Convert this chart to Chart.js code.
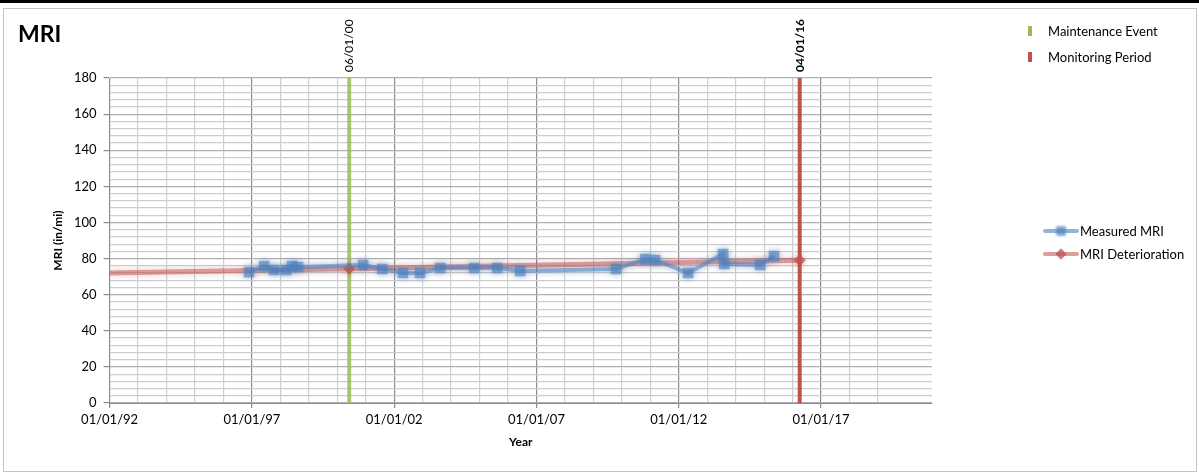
<!DOCTYPE html>
<html>
<head>
<meta charset="utf-8">
<script src="https://cdn.jsdelivr.net/npm/chart.js@4"></script>
<style>
  body { margin: 0; background: #fff; font-family: Lato, sans-serif; }
  #wrap { position: relative; width: 1199px; height: 475px; overflow: hidden; background: #fff; }
  #topbar { position: absolute; left: 0; top: 0; width: 1199px; height: 3px; background: #000; }
  #frame { position: absolute; left: 3px; top: 8px; width: 1194px; height: 464px; border: 1px solid #c4c4c4; box-sizing: border-box; }
  #chartBox { position: absolute; left: 0; top: 0; width: 1199px; height: 475px; }
  #title { position: absolute; left: 18px; top: 19px; font-size: 23px; font-weight: bold; color: #000; }
  .leg { position: absolute; font-size: 13px; color: #000; line-height: 16px; }
  .bar { position: absolute; width: 4px; height: 10px; }
  .lline { position: absolute; width: 36px; height: 4px; border-radius: 2px; }
  .mk { position: absolute; width: 10px; height: 10px; }
</style>
</head>
<body>
<div id="wrap">
  <div id="topbar"></div>
  <div id="frame"></div>
  <div id="chartBox"><canvas id="myChart" width="1199" height="475"></canvas></div>
  <div id="title">MRI</div>

  <div class="bar" style="left:1028px;top:26px;background:#9bbb59;"></div>
  <div class="leg" style="left:1048px;top:23px;">Maintenance Event</div>
  <div class="bar" style="left:1028px;top:52px;background:#c0504d;"></div>
  <div class="leg" style="left:1048px;top:49px;">Monitoring Period</div>

  <div class="lline" style="left:1043px;top:229px;background:rgba(79,129,189,0.6);filter:blur(0.6px);"></div>
  <div class="mk" style="left:1056px;top:226px;background:rgba(79,129,189,0.7);border-radius:2px;filter:blur(0.8px);"></div>
  <div class="leg" style="left:1080px;top:223px;">Measured MRI</div>
  <div class="lline" style="left:1043px;top:252px;background:rgba(192,80,77,0.55);filter:blur(0.6px);"></div>
  <div class="mk" style="left:1056px;top:249px;background:rgba(192,80,77,0.75);transform:rotate(45deg) scale(0.8);filter:blur(0.6px);"></div>
  <div class="leg" style="left:1080px;top:246px;">MRI Deterioration</div>
</div>

<script>
// misure MRI (anno decimale, valore in/mi)
const measuredYears = [1996.90, 1997.43, 1997.78, 1998.20, 1998.41, 1998.62, 2000.91, 2001.58, 2002.31, 2002.91,
                       2003.62, 2004.81, 2005.62, 2006.43, 2009.80, 2010.82, 2011.17, 2012.33, 2013.56, 2013.60,
                       2014.86, 2015.35];
const measuredMri = [72.5, 75.9, 73.7, 73.7, 75.9, 75.3, 76.4, 74.2, 72.0, 72.0,
                     74.8, 74.8, 74.8, 73.1, 74.2, 79.7, 79.2, 72.0, 82.5, 77.0,
                     76.4, 81.4];
// linea di deterioramento
const trendYears = [1992, 2000.42, 2016.25];
const trendMri = [72.0, 74.4, 79.0];
// eventi
const maintenanceYear = 2000.42;
const monitoringYear = 2016.25;
const eventLabels = ['06/01/00', '04/01/16'];
// etichette asse x
const xLabelYears = [1992, 1997, 2002, 2007, 2012, 2017];

const FONT = 'Lato, sans-serif';

// effetto sfumato stile Excel
const softGlow = {
    id: 'softGlow',
    beforeDatasetDraw(chart, args) {
        const ds = chart.data.datasets[args.index];
        chart.ctx.save();
        if (ds.glow) {
            chart.ctx.shadowColor = ds.glow;
            chart.ctx.shadowBlur = 6;
        }
    },
    afterDatasetDraw(chart) {
        chart.ctx.restore();
    }
};

// etichette ruotate sopra le linee verticali
const eventText = {
    id: 'eventText',
    afterDraw(chart) {
        const ctx = chart.ctx;
        const xs = chart.scales.x;
        const years = [maintenanceYear, monitoringYear];
        for (let i = 0; i < years.length; i++) {
            ctx.save();
            ctx.translate(xs.getPixelForValue(years[i]), 72);
            ctx.rotate(-Math.PI / 2);
            ctx.font = (i === 1 ? 'bold ' : '') + '12px ' + FONT;
            ctx.fillStyle = '#000';
            ctx.textAlign = 'left';
            ctx.textBaseline = 'middle';
            ctx.fillText(eventLabels[i], 0, 0);
            ctx.restore();
        }
    }
};

const toPoints = (xs, ys) => xs.map((x, i) => ({ x: x, y: ys[i] }));

let myChart = document.getElementById('myChart').getContext('2d');

const chart = new Chart(myChart, {
    type: 'scatter',
    data: {
        datasets: [{
            label: 'Measured MRI',
            data: toPoints(measuredYears, measuredMri),
            showLine: true,
            borderColor: 'rgba(79,129,189,0.55)',
            backgroundColor: 'rgba(79,129,189,0.6)',
            borderWidth: 4,
            pointStyle: 'rect',
            pointRadius: 7.5,
            pointBorderWidth: 0,
            glow: 'rgba(79,129,189,0.9)',
        }, {
            label: 'MRI Deterioration',
            data: toPoints(trendYears, trendMri),
            showLine: true,
            borderColor: 'rgba(192,80,77,0.5)',
            backgroundColor: 'rgba(192,80,77,0.75)',
            borderWidth: 5,
            pointStyle: 'rectRot',
            pointRadius: [0, 6, 6],
            pointBorderWidth: 0,
            glow: 'rgba(192,80,77,0.6)',
        }, {
            label: 'Maintenance Event',
            data: [{ x: maintenanceYear, y: 0 }, { x: maintenanceYear, y: 180 }],
            showLine: true,
            borderColor: 'rgba(155,187,89,0.85)',
            borderWidth: 4,
            pointRadius: 0,
        }, {
            label: 'Monitoring Period',
            data: [{ x: monitoringYear, y: 0 }, { x: monitoringYear, y: 180 }],
            showLine: true,
            borderColor: 'rgba(185,75,60,0.95)',
            borderWidth: 4,
            pointRadius: 0,
        }]
    },
    options: {
        responsive: false,
        animation: false,
        layout: { padding: { left: 47, top: 78, right: 267, bottom: 22 } },
        scales: {
            x: {
                type: 'linear',
                min: 1992,
                max: 2020.9,
                afterFit: (s) => { s.height = 50; },
                ticks: {
                    stepSize: 1,
                    autoSkip: false,
                    maxRotation: 0,
                    padding: 4,
                    color: '#000',
                    font: { family: FONT, size: 13 },
                    callback: (v) => xLabelYears.includes(v) ? '01/01/' + String(v).slice(2) : '',
                },
                grid: {
                    color: (c) => {
                        if (!c.tick || c.tick.value > 2020) return 'rgba(0,0,0,0)';
                        return c.tick.value % 5 === 2 ? '#8c8c8c' : '#d0d0d0';
                    },
                    lineWidth: 1.2,
                    tickColor: (c) => c.tick && c.tick.value % 5 === 2 ? '#8c8c8c' : 'rgba(0,0,0,0)',
                    tickLength: 5,
                },
                border: { color: '#8c8c8c' },
                title: {
                    display: true,
                    text: 'Year',
                    color: '#000',
                    font: { family: FONT, size: 12, weight: 'bold' },
                    padding: 4,
                },
            },
            y: {
                min: 0,
                max: 180,
                afterFit: (s) => { s.width = 109.6 - 47; },
                ticks: {
                    stepSize: 4,
                    autoSkip: false,
                    padding: 7,
                    color: '#000',
                    font: { family: FONT, size: 13 },
                    callback: (v) => v % 20 === 0 ? v : '',
                },
                grid: {
                    color: (c) => c.tick && c.tick.value % 20 === 0 ? '#b0b0b0' : '#cdcdcd',
                    lineWidth: 1.2,
                    tickColor: (c) => c.tick && c.tick.value % 20 === 0 ? '#8c8c8c' : 'rgba(0,0,0,0)',
                    tickLength: 6,
                },
                border: { color: '#8c8c8c' },
                title: {
                    display: true,
                    text: 'MRI (in/mi)',
                    color: '#000',
                    font: { family: FONT, size: 12, weight: 'bold' },
                    padding: 4,
                },
            },
        },
        plugins: {
            legend: { display: false },
            tooltip: { enabled: false },
        },
    },
    plugins: [softGlow, eventText],
});
</script>
</body>
</html>
